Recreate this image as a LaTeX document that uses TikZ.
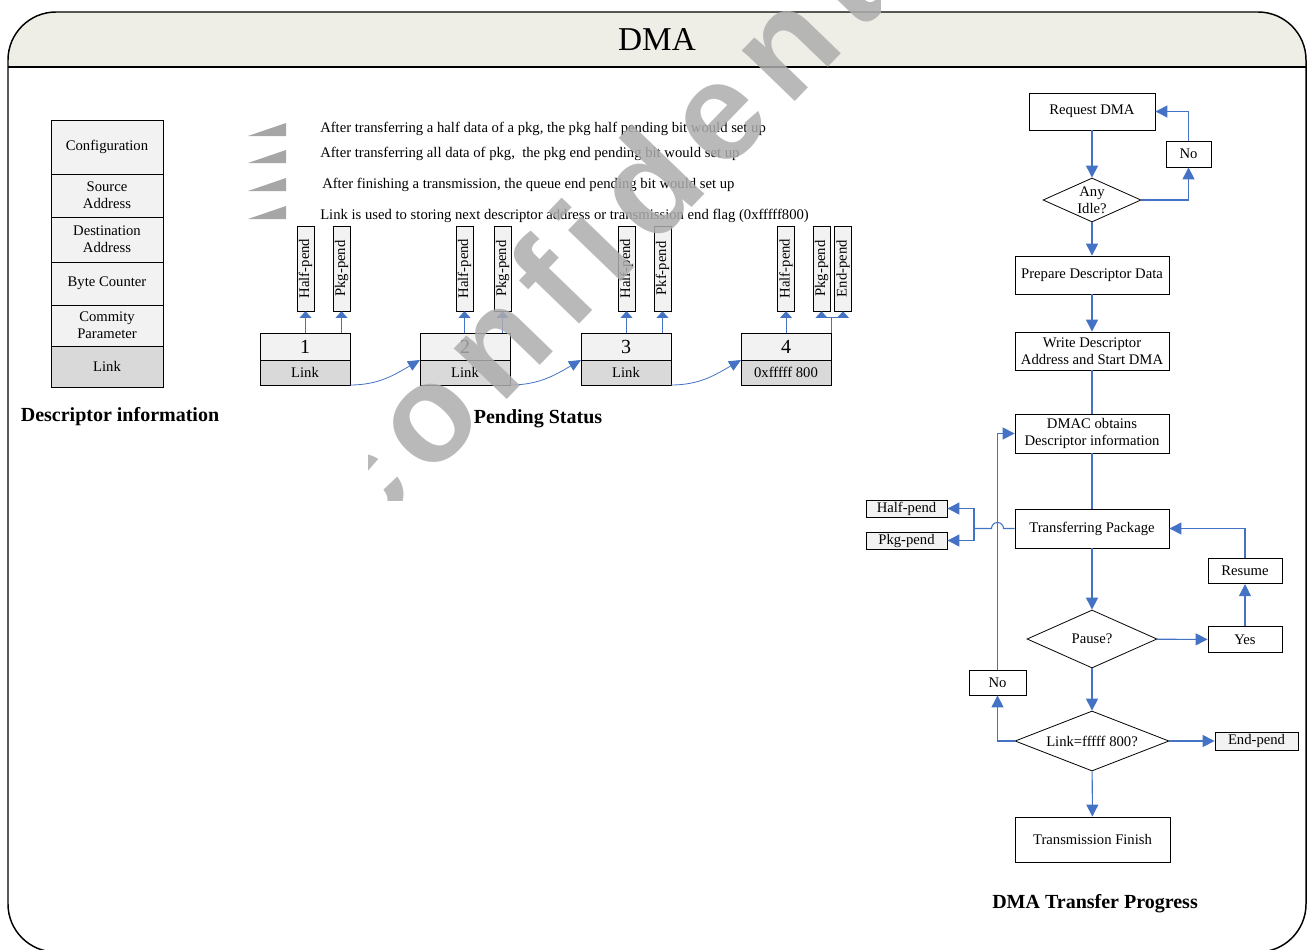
\documentclass[tikz,border=0pt]{standalone}
\usepackage{fontspec}
\setmainfont{Liberation Serif}
\newfontfamily\wmfont[LetterSpace=12]{Liberation Sans}
\usetikzlibrary{positioning, arrows.meta, shapes.geometric}

\definecolor{flowblue}{HTML}{4472C4}
\definecolor{bandfill}{HTML}{EEEEE6}
\definecolor{lightcell}{HTML}{F2F2F2}
\definecolor{darkcell}{HTML}{D9D9D9}
\definecolor{wedgegray}{HTML}{A6A6A6}

\begin{document}
\begin{tikzpicture}[
  x=0.75pt, y=-0.75pt,
  every node/.style={font=\fontsize{11}{12.5}\selectfont, inner sep=0pt},
  descbox/.style={draw, fill=lightcell, minimum width=84pt, align=center, line width=0.6pt, outer sep=0pt},
  numbox/.style={draw, fill=lightcell, minimum width=67.5pt, minimum height=20.25pt, outer sep=0pt, font=\fontsize{15}{16}\selectfont},
  linkbox/.style={draw, fill=darkcell, minimum width=67.5pt, minimum height=18.75pt, outer sep=0pt},
  pendbox/.style={draw, fill=lightcell, rotate=90, minimum width=63.75pt, minimum height=13pt},
  flowbox/.style={draw, minimum width=115.5pt, minimum height=28.5pt, align=center, line width=0.6pt},
  smallbox/.style={draw, minimum width=55.5pt, minimum height=19pt, line width=0.6pt},
  flagbox/.style={draw, fill=lightcell, minimum width=60.75pt, minimum height=12.75pt, line width=0.6pt},
  decision/.style={draw, diamond, aspect=2.2, align=center, line width=0.6pt},
  legendtext/.style={anchor=west, font=\fontsize{11}{12}\selectfont},
  caption/.style={font=\fontsize{15}{17}\selectfont\bfseries},
  blueline/.style={draw=flowblue, line width=0.8pt},
  bluearrow/.style={blueline, -{Triangle[length=9pt, width=9pt]}},
  pendarrow/.style={draw=flowblue, line width=0.6pt, -{Triangle[length=5pt, width=9pt]}}
]
\useasboundingbox (0,0) rectangle (1309,949);

% Frame and title band
\begin{scope}
  \clip[rounded corners=36pt] (8,12) rectangle (1306,952);
  \fill[bandfill] (8,12) rectangle (1306,67);
\end{scope}
\draw[line width=1.1pt, rounded corners=36pt] (8,12) rectangle (1306,952);
\draw[line width=1.1pt] (8,67) -- (1306,67);
\node[font=\fontsize{25}{28}\selectfont] (title) at (657,40) {DMA};

% Descriptor information
\node[descbox, minimum height=40.5pt] (cfg) at (107,147) {Configuration};
\node[descbox, minimum height=32.25pt, below=0pt of cfg] (src) {Source\\Address};
\node[descbox, minimum height=33.75pt, below=0pt of src] (dst) {Destination\\Address};
\node[descbox, minimum height=32.25pt, below=0pt of dst] (cnt) {Byte Counter};
\node[descbox, minimum height=30.75pt, below=0pt of cnt] (par) {Commity\\Parameter};
\node[descbox, minimum height=30.75pt, below=0pt of par, fill=darkcell] (lnk) {Link};
\node[caption] (desccap) at (120,417) {Descriptor information};

% Legend
\fill[wedgegray] (248,136) -- (286,123) -- (286,136) -- cycle;
\fill[wedgegray] (248,163) -- (286,150) -- (286,163) -- cycle;
\fill[wedgegray] (248,191) -- (286,178) -- (286,191) -- cycle;
\fill[wedgegray] (248,219) -- (286,206) -- (286,219) -- cycle;
\node[legendtext] (note1) at (320,129) {After transferring a half data of a pkg, the pkg half pending bit would set up};
\node[legendtext] (note2) at (320,154) {After transferring all data of pkg,~ the pkg end pending bit would set up};
\node[legendtext] (note3) at (322,185) {After finishing a transmission, the queue end pending bit would set up};
\node[legendtext] (note4) at (320,216) {Link is used to storing next descriptor address or transmission end flag (0xfffff800)};

% Pending status
\node[numbox] (num1) at (305,346.5) {1};
\node[linkbox, below=0pt of num1] (lnk1) {Link};
\node[numbox] (num2) at (465,346.5) {2};
\node[linkbox, below=0pt of num2] (lnk2) {Link};
\node[numbox] (num3) at (626,346.5) {3};
\node[linkbox, below=0pt of num3] (lnk3) {Link};
\node[numbox] (num4) at (786,346.5) {4};
\node[linkbox, below=0pt of num4] (lnk4) {0xfffff 800};

\node[pendbox] (hp1) at (305.5,268.5) {Half-pend};
\node[pendbox] (pp1) at (341.5,268.5) {Pkg-pend};
\node[pendbox] (hp2) at (464.5,268.5) {Half-pend};
\node[pendbox] (pp2) at (502.5,268.5) {Pkg-pend};
\node[pendbox] (hp3) at (626.5,268.5) {Half-pend};
\node[pendbox] (pp3) at (662.5,268.5) {Pkf-pend};
\node[pendbox] (hp4) at (786,268.5) {Half-pend};
\node[pendbox] (pp4) at (821.5,268.5) {Pkg-pend};
\node[pendbox] (ep4) at (843,268.5) {End-pend};

\draw[pendarrow] (hp1.west |- num1.north) -- (hp1.west);
\draw[pendarrow] (pp1.west |- num1.north) -- (pp1.west);
\draw[pendarrow] (hp2.west |- num2.north) -- (hp2.west);
\draw[pendarrow] (pp2.west |- num2.north) -- (pp2.west);
\draw[pendarrow] (hp3.west |- num3.north) -- (hp3.west);
\draw[pendarrow] (pp3.west |- num3.north) -- (pp3.west);
\draw[pendarrow] (hp4.west |- num4.north) -- (hp4.west);
\draw[draw=flowblue, line width=0.6pt] (num4.north east) -- ++(0,-16) coordinate (fork4);
\draw[pendarrow] (fork4) -| (pp4.west);
\draw[pendarrow] (fork4) -| (ep4.west);

\draw[draw=flowblue, line width=0.6pt, -{Triangle[length=9pt, width=8pt]}] (lnk1.south east) to[out=0, in=-150] (lnk2.north west);
\draw[draw=flowblue, line width=0.6pt, -{Triangle[length=9pt, width=8pt]}] (lnk2.south east) to[out=0, in=-150] (lnk3.north west);
\draw[draw=flowblue, line width=0.6pt, -{Triangle[length=9pt, width=8pt]}] (lnk3.south east) to[out=0, in=-150] (lnk4.north west);
\node[caption] (pendcap) at (538,419) {Pending Status};

% Transfer flow
\node[flowbox, minimum width=94.5pt, minimum height=27.75pt] (req) at (1092,111.5) {Request DMA};
\node[decision, minimum width=73.5pt, minimum height=33pt] (idle) at (1092,200) {Any\\Idle?};
\node[smallbox, minimum width=33.75pt, minimum height=19.5pt] (noidle) at (1188.5,154) {No};
\node[flowbox] (prep) at (1092,275) {Prepare Descriptor Data};
\node[flowbox] (wr) at (1092,351) {Write Descriptor\\Address and Start DMA};
\node[flowbox, minimum height=29.25pt] (dmac) at (1092,433.5) {DMAC obtains\\Descriptor information};
\node[flowbox, minimum height=29.25pt] (tp) at (1092,528.5) {Transferring Package};
\node[decision, minimum width=97.5pt, minimum height=43.5pt] (pause) at (1092,639) {Pause?};
\node[smallbox] (yes) at (1245,639.5) {Yes};
\node[smallbox] (resume) at (1245,571) {Resume};
\node[decision, minimum width=115.5pt, minimum height=45pt] (islast) at (1092,741) {Link=fffff 800?};
\node[flagbox, minimum width=62.25pt, minimum height=13.5pt] (endflag) at (1256.5,741) {End-pend};
\node[smallbox, minimum width=42.75pt, minimum height=18.75pt] (nolink) at (997.5,682.5) {No};
\node[flowbox, minimum width=116.25pt, minimum height=33.75pt] (fin) at (1092.5,839.5) {Transmission Finish};
\node[flagbox] (halfflag) at (906.5,508.5) {Half-pend};
\node[flagbox] (pkgflag) at (906.5,540.5) {Pkg-pend};
\node[caption] (flowcap) at (1095,904) {DMA Transfer Progress};

\draw[bluearrow] (req) -- (idle);
\draw[bluearrow] (idle.east) -| (noidle.south);
\draw[bluearrow] (noidle.north) |- (req.east);
\draw[bluearrow] (idle) -- (prep);
\draw[bluearrow] (prep) -- (wr);
\draw[blueline] (wr) -- (dmac);
\draw[blueline] (dmac) -- (tp);
\draw[bluearrow] (tp) -- (pause);
\draw[bluearrow] (pause) -- (yes);
\draw[bluearrow] (yes) -- (resume);
\draw[bluearrow] (resume.north) |- (tp.east);
\draw[bluearrow] (pause) -- (islast);
\draw[bluearrow] (islast) -- (endflag);
\draw[bluearrow] (islast.west) -| (nolink.south);
\draw[bluearrow] (nolink.north) |- (dmac.west);
\draw[bluearrow] (islast) -- (fin);

\coordinate (split) at (974,528.5);
\draw[blueline] (tp.west) -- (1003.5,528.5) arc[start angle=0, end angle=-180, radius=6] -- (split);
\draw[bluearrow] (split) |- (halfflag.east);
\draw[bluearrow] (split) |- (pkgflag.east);

% Watermark
\begin{scope}
  \clip (368,0) rectangle (880,500);
  \node[rotate=46, text=black!32, text opacity=0.85, font=\fontsize{104}{110}\wmfont\bfseries] (mark) at (592,240) {confident};
\end{scope}

\end{tikzpicture}
\end{document}
